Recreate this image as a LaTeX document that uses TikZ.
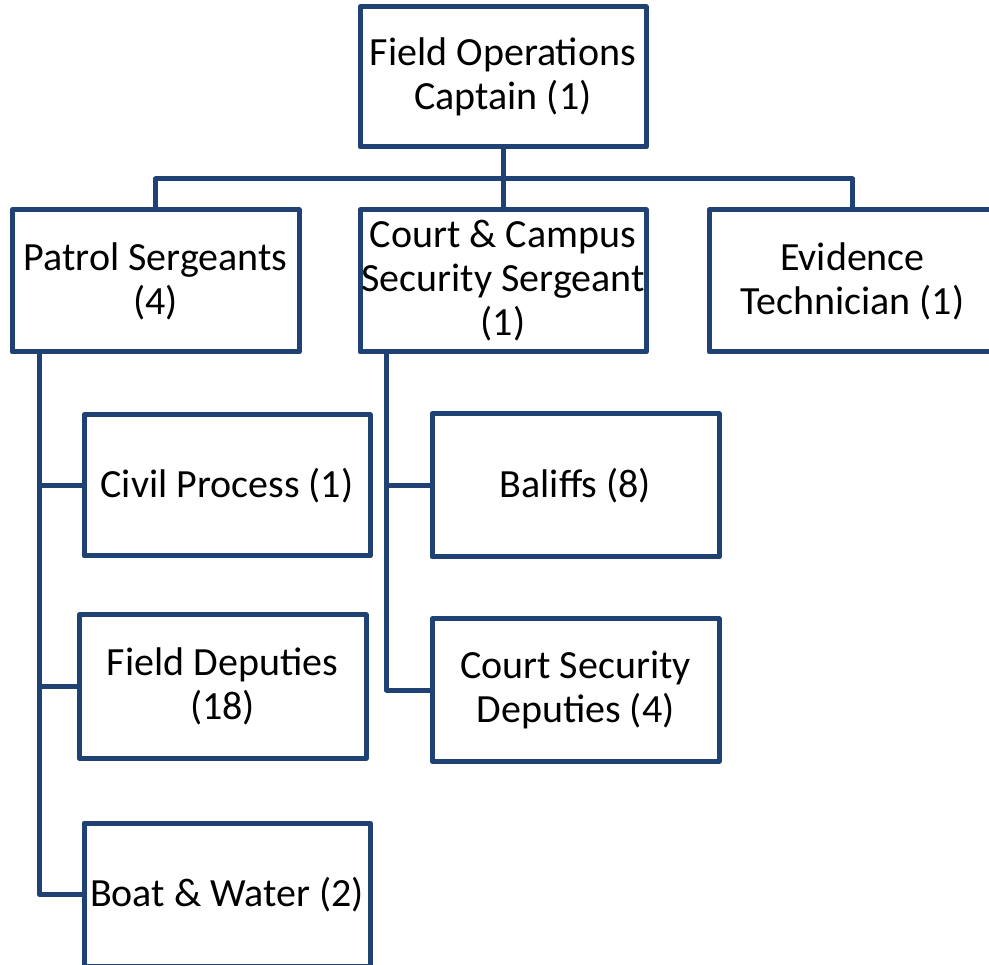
\documentclass[tikz,border=0pt]{standalone}
\usepackage{fontspec}
\setmainfont{Carlito}
\definecolor{orgblue}{RGB}{31,65,115}
\begin{document}
\begin{tikzpicture}[x=1pt,y=-1pt,
  unit/.style={draw=orgblue, line width=5pt, line join=round, fill=white,
    rectangle, align=center, inner sep=0pt, text=black,
    minimum width=287pt, minimum height=142pt,
    font=\fontsize{40}{44}\selectfont},
  link/.style={draw=orgblue, line width=5pt, line join=round}]
\useasboundingbox[fill=white] (0,0) rectangle (989,965);

\coordinate (bus) at (503,179);

% top level
\node[unit, minimum width=286pt, minimum height=140pt] (captain) at (503,77) {Field Operations\\Captain (1)};

% sergeants row
\node[unit] (patrol) at (155.5,281) {Patrol Sergeants\\(4)};
\node[unit, minimum width=286pt] (court) at (503,281) {Court \& Campus\\Security Sergeant\\(1)};
\node[unit] (evid) at (852.5,281) {Evidence\\Technician (1)};

% patrol units
\node[unit, minimum width=286pt, minimum height=141pt] (civil) at (227,485.5) {Civil Process (1)};
\node[unit, minimum height=143pt] (fdep) at (222.5,686.5) {Field Deputies\\(18)};
\node[unit, minimum width=286pt, minimum height=143pt] (boat) at (227,894.5) {Boat \& Water (2)};

% court units
\node[unit, minimum height=143pt] (bal) at (575.5,485.5) {Baliffs (8)};
\node[unit] (csd) at (575.5,690) {Court Security\\Deputies (4)};

% captain to sergeants
\draw[link] (captain.south) -- (court.north);
\draw[link] (patrol.north) |- (bus) -| (evid.north);

% patrol trunk
\coordinate (ptop) at ([xshift=30pt]patrol.south west);
\draw[link] (ptop) |- (boat.west);
\draw[link] (ptop |- civil.west) -- (civil.west);
\draw[link] (ptop |- fdep.west) -- (fdep.west);

% court trunk
\coordinate (ctop) at ([xshift=29pt]court.south west);
\draw[link] (ctop) |- (csd.west);
\draw[link] (ctop |- bal.west) -- (bal.west);
\end{tikzpicture}
\end{document}
